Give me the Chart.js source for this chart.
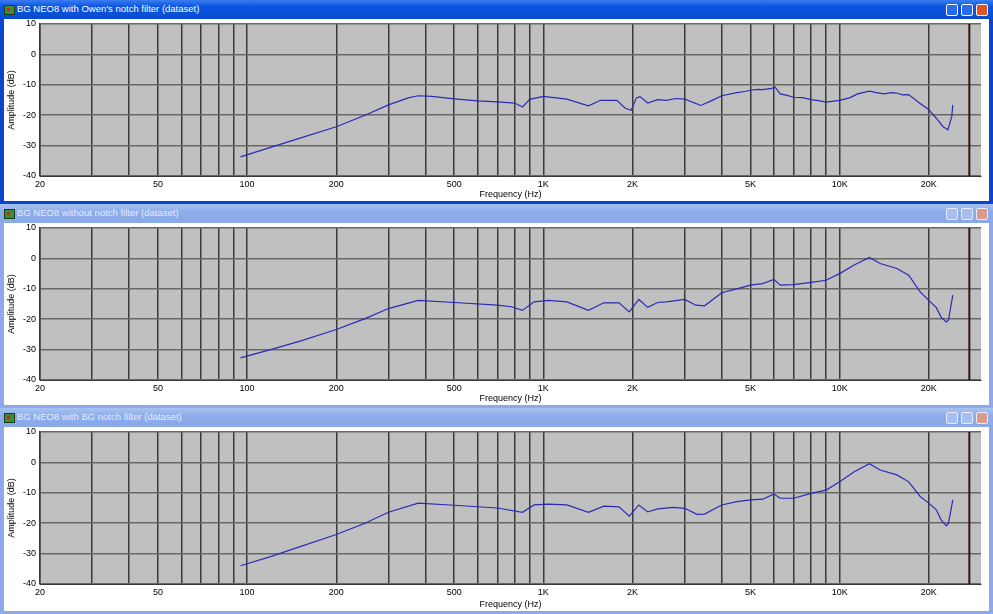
<!DOCTYPE html>
<html>
<head>
<meta charset="utf-8">
<script src="https://cdn.jsdelivr.net/npm/chart.js@4.4.1/dist/chart.umd.min.js"></script>
<style>
    body { margin: 0; background: #fff; width: 993px; height: 614px; overflow: hidden; font-family: 'Liberation Sans', Arial, sans-serif; }
    .win { position: absolute; left: 0; width: 993px; background: #0b45cf; }
    .win.inactive { background: #8ea9e8; }
    .title { position: absolute; left: 0; right: 0; top: 0; height: 19px;
        background: linear-gradient(#3b7cf0, #0a55e0 35%, #0850d6 80%, #0a48c8); }
    .inactive .title { background: linear-gradient(#a9c2f3, #8eadeb 40%, #8aa8e8); }
    .icon { position: absolute; left: 4px; top: 5px; width: 9px; height: 8px; background: #3c8c3c; border: 1px solid #1a3a1a; }
    .icon::after { content: ''; position: absolute; left: 2px; top: 2px; width: 3px; height: 3px; background: #d02020; }
    .text { position: absolute; left: 17px; top: 3px; font-size: 9.5px; color: #fff; white-space: nowrap; }
    .inactive .text { color: #e4ecfb; }
    .btn { position: absolute; top: 4px; width: 12px; height: 12px; border: 1px solid #fff; border-radius: 2px; background: #2a6af0; box-sizing: border-box; }
    .btn.close { background: #e0542a; }
    .inactive .btn { background: #a6bef0; border-color: #e8eefc; }
    .inactive .btn.close { background: #d99a8a; }
    .client { position: absolute; left: 4px; top: 19px; width: 985px; background: #fff; }
    canvas { display: block; }
</style>
</head>
<body>

<div class="win" id="w1" style="top:0; height:204px;">
    <div class="title"><span class="icon"></span><span class="text">BG NEO8 with Owen's notch filter (dataset)</span>
        <span class="btn" style="left:946px"></span><span class="btn" style="left:961px"></span><span class="btn close" style="left:976px"></span></div>
    <div class="client" style="height:182px;"><canvas id="c1" width="985" height="182"></canvas></div>
</div>

<div class="win inactive" id="w2" style="top:204px; height:204px;">
    <div class="title"><span class="icon"></span><span class="text">BG NEO8 without notch filter (dataset)</span>
        <span class="btn" style="left:946px"></span><span class="btn" style="left:961px"></span><span class="btn close" style="left:976px"></span></div>
    <div class="client" style="height:182px;"><canvas id="c2" width="985" height="182"></canvas></div>
</div>

<div class="win inactive" id="w3" style="top:408px; height:206px;">
    <div class="title"><span class="icon"></span><span class="text">BG NEO8 with BG notch filter (dataset)</span>
        <span class="btn" style="left:946px"></span><span class="btn" style="left:961px"></span><span class="btn close" style="left:976px"></span></div>
    <div class="client" style="height:184px;"><canvas id="c3" width="985" height="184"></canvas></div>
</div>

<script>
// 频率刻度（网格线位置）
const gridFreqs = [20, 30, 40, 50, 60, 70, 80, 90,
    100, 200, 300, 400, 500, 600, 700, 800, 900,
    1000, 2000, 3000, 4000, 5000, 6000, 7000, 8000, 9000,
    10000, 20000];
const labelFreqs = [20, 50, 100, 200, 500, 1000, 2000, 5000, 10000, 20000];
const labelTexts = ['20', '50', '100', '200', '500', '1K', '2K', '5K', '10K', '20K'];
const ampTicks = [-40, -30, -20, -10, 0, 10];

// 右侧的竖线标记
const markerFreq = [27400, 27400];
const markerLevel = [-40, 10];

// 曲线1 - Owen's notch filter
const owenFreq = [95, 120, 150, 200, 250, 300, 350, 378, 420, 500, 600, 700, 800, 850, 900,
    1000, 1200, 1420, 1560, 1770, 1890, 1980, 2060, 2120, 2250, 2430, 2600, 2800, 3010, 3200,
    3400, 3700, 4000, 4500, 4800, 5000, 5300, 5500, 5900, 6050, 6300, 6600, 7000, 7500, 8000,
    8500, 9000, 10000, 10800, 11500, 12600, 13300, 14100, 15000, 15600, 16300, 17100, 18600,
    20000, 21200, 22300, 23200, 23900, 24100];
const owenAmp = [-33.7, -30.6, -27.6, -23.8, -20.0, -16.6, -14.3, -13.6, -13.8, -14.6, -15.3, -15.6, -16.0, -17.3, -14.8,
    -13.8, -14.7, -16.9, -15.1, -15.1, -17.7, -18.4, -14.3, -13.9, -16.0, -14.9, -15.1, -14.5, -14.7, -15.8,
    -16.8, -15.2, -13.6, -12.6, -12.2, -11.8, -11.5, -11.6, -11.2, -10.7, -13.0, -13.4, -14.1, -14.2, -14.9,
    -15.2, -15.7, -15.1, -14.3, -13.0, -12.1, -12.6, -13.0, -12.6, -12.7, -13.3, -13.2, -16.0,
    -18.2, -21.0, -23.7, -24.8, -20.4, -16.6];

// 曲线2 - 无 notch filter
const plainFreq = [95, 120, 151, 200, 250, 300, 378, 500, 700, 780, 850, 930,
    1040, 1200, 1420, 1600, 1800, 1950, 2100, 2250, 2430, 2600, 3000, 3270, 3500,
    4000, 4500, 5000, 5500, 6000, 6300, 7000, 8000, 9000, 10000, 11200, 12600, 13700,
    15600, 17100, 18700, 20000, 21200, 22000, 22900, 23300, 24100];
const plainAmp = [-32.7, -30.0, -27.2, -23.4, -19.8, -16.5, -13.8, -14.5, -15.4, -15.9, -17.1, -14.3,
    -13.8, -14.3, -17.1, -14.6, -14.6, -17.6, -13.5, -16.1, -14.5, -14.3, -13.5, -15.4, -15.6,
    -11.3, -10.0, -8.8, -8.3, -6.9, -8.8, -8.6, -7.9, -7.2, -5.0, -2.2, 0.3, -1.7,
    -3.3, -5.5, -11.0, -13.8, -16.2, -19.3, -20.9, -20.3, -12.1];

// 曲线3 - BG notch filter
const bgFreq = [95, 120, 151, 200, 250, 300, 378, 500, 700, 850, 930,
    1040, 1200, 1420, 1600, 1800, 1950, 2100, 2250, 2430, 2750, 3000, 3300, 3500,
    4000, 4500, 5000, 5500, 6000, 6300, 7000, 8000, 9000, 10000, 11200, 12600, 13700,
    15600, 17100, 18700, 20000, 21200, 22000, 22900, 23300, 24100];
const bgAmp = [-34.0, -31.0, -27.7, -23.7, -20.0, -16.4, -13.4, -14.1, -15.0, -16.4, -14.0,
    -13.7, -14.0, -16.4, -14.4, -14.6, -17.7, -14.0, -16.3, -15.3, -14.8, -15.1, -17.1, -17.0,
    -14.0, -12.9, -12.3, -12.1, -10.4, -11.8, -11.8, -10.2, -9.1, -6.4, -3.1, -0.4, -2.5,
    -4.1, -6.4, -11.2, -13.4, -15.6, -18.9, -20.9, -20.0, -12.3];

// 绘图区灰色背景
const plotBg = {
    id: 'plotBg',
    beforeDraw(chart) {
        const a = chart.chartArea;
        const ctx = chart.ctx;
        ctx.save();
        ctx.fillStyle = '#c0c0c0';
        ctx.fillRect(a.left, a.top, a.right - a.left, a.bottom - a.top);
        ctx.restore();
    }
};

function toPoints(xs, ys) {
    return xs.map((x, i) => ({ x: x, y: ys[i] }));
}

function createResponseChart(canvasId, freq, amp) {
    const canvas = document.getElementById(canvasId);
    const axisHeight = canvas.height - 157;
    return new Chart(canvas, {
        type: 'line',
        data: {
            datasets: [
                {
                    data: toPoints(freq, amp),
                    borderColor: '#2a2ab8',
                    borderWidth: 1.2,
                    pointRadius: 0,
                    tension: 0
                },
                {
                    data: toPoints(markerFreq, markerLevel),
                    borderColor: '#3a1010',
                    borderWidth: 2,
                    pointRadius: 0
                }
            ]
        },
        options: {
            responsive: false,
            animation: false,
            layout: { padding: { top: 0, right: 8, left: 0, bottom: 0 } },
            scales: {
                x: {
                    type: 'logarithmic',
                    min: 20,
                    max: 30000,
                    afterBuildTicks: scale => {
                        scale.ticks = gridFreqs.map(v => ({ value: v }));
                    },
                    afterFit: scale => { scale.height = axisHeight; },
                    grid: { color: '#3a3a3a', lineWidth: 1.5, drawTicks: false },
                    border: { color: '#3a3a3a', width: 1 },
                    ticks: {
                        autoSkip: false,
                        maxRotation: 0,
                        padding: 3,
                        color: '#000',
                        font: { family: "'Liberation Sans', Arial, sans-serif", size: 9 },
                        callback: value => {
                            const i = labelFreqs.indexOf(value);
                            return i >= 0 ? labelTexts[i] : '';
                        }
                    },
                    title: {
                        display: true,
                        text: 'Frequency (Hz)',
                        color: '#000',
                        font: { family: "'Liberation Sans', Arial, sans-serif", size: 9 },
                        padding: { top: 0, bottom: 1 }
                    }
                },
                y: {
                    min: -40,
                    max: 10,
                    afterBuildTicks: scale => {
                        scale.ticks = ampTicks.map(v => ({ value: v }));
                    },
                    afterFit: scale => {
                        scale.width = 36;
                        scale.paddingTop = 5;
                        scale.paddingBottom = 0;
                    },
                    grid: { color: '#686868', lineWidth: 1.5, drawTicks: false },
                    border: { color: '#3a3a3a', width: 1.5 },
                    ticks: {
                        padding: 4,
                        color: '#000',
                        font: { family: "'Liberation Sans', Arial, sans-serif", size: 9 }
                    },
                    title: {
                        display: true,
                        text: 'Amplitude (dB)',
                        color: '#000',
                        font: { family: "'Liberation Sans', Arial, sans-serif", size: 9 },
                        padding: { top: 2, bottom: 0 }
                    }
                }
            },
            plugins: {
                legend: { display: false },
                tooltip: { enabled: false }
            }
        },
        plugins: [plotBg]
    });
}

createResponseChart('c1', owenFreq, owenAmp);
createResponseChart('c2', plainFreq, plainAmp);
createResponseChart('c3', bgFreq, bgAmp);
</script>
</body>
</html>
